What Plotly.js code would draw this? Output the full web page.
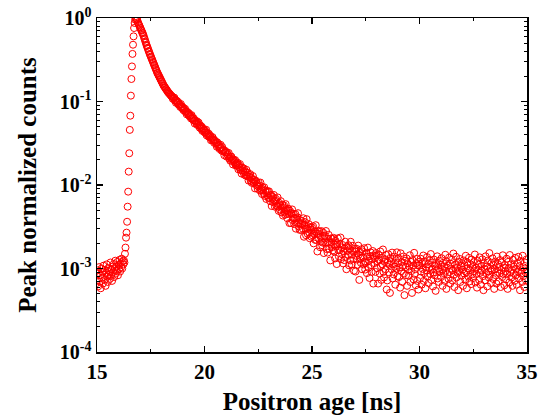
<!DOCTYPE html>
<html>
<head>
<meta charset="utf-8">
<script src="https://cdn.plot.ly/plotly-3.0.1.min.js"></script>
<style>html,body{margin:0;padding:0;background:#fff;}#chart{width:540px;height:417px;}</style>
</head>
<body>
<div id="chart"></div>
<script>
// Time axis: first channel and channel width (ns)
const channelStart = 15;
const channelWidth = 0.025;

// Counts per channel (relative units, peak = 100000)
const counts = [
72,95,61,88,104,70,83,58,99,77,
91,66,108,84,73,96,62,89,112,80,
69,101,86,93,75,118,82,97,71,105,
90,113,79,99,124,87,106,94,120,83,
110,98,127,92,115,104,131,100,122,112,
125,118,150,178,
234,269,363,550,832,1445,2400,4570,6760,11750,18600,26300,37150,47860,60260,75860,87100,95500,100000,
98000,97500,94000,88500,86500,82700,80900,77000,75400,72000,70500,67000,65800,62600,
60700,57100,55400,52000,50600,47500,46200,43800,42800,40200,39500,37100,36400,
34500,33700,32100,31300,29800,29000,27600,27000,25700,25000,23900,23200,
22100,21750,20850,20500,19650,19300,18500,18150,17450,17100,16450,16100,15450,
15250,14800,14600,14150,13980,13550,13380,12950,12850,12520,12400,12080,11980,11650,11560,
11410,10770,11220,10720,11100,10240,10320,9650,10250,9940,9520,9860,9120,9220,9240,8590,9330,8560,8710,8200,
8510,7840,8230,7830,8150,7470,7550,7010,7510,7270,6950,7240,6650,6750,6770,6260,6860,6250,6380,5980,
6280,5930,5440,5880,5730,5460,5800,5220,5400,5600,5120,4860,5190,4960,4730,4990,4450,4750,4530,4640,
4280,4490,4220,4590,3930,4210,4040,3820,4120,3770,3860,3880,3430,3640,3460,3740,3430,3520,3200,3350,
3380,3170,3250,2870,3230,2910,2980,3050,2700,2790,3030,2790,2570,2850,2540,2610,2610,2270,2460,2550,
2460,2190,2440,2310,2200,2420,2070,2150,1950,2170,2190,1950,2030,1760,2020,1950,1850,1990,1720,1810,
1700,1860,1740,1540,1740,1620,1780,1510,1610,1370,1620,1500,1430,1580,1330,1470,1420,1290,1520,1300,
1410,1260,1130,1320,1250,1350,1120,1220,1060,1170,1280,1060,1090,1150,910,1100,1120,990,1030,900,
960,1060,990,860,1070,870,900,780,940,890,800,940,740,860,820,680,840,750,840,700,
840,700,640,750,760,560,690,720,620,760,640,550,650,680,560,600,710,550,490,610,
510,570,640,470,530,580,430,540,570,480,440,590,500,450,400,500,520,450,350,490,
460,350,460,510,380,400,450,340,400,450,300,400,350,410,460,320,360,290,380,340,
290,370,340,300,400,240,330,360,300,250,390,300,260,320,340,270,230,310,290,240,
310,250,320,200,260,280,220,330,220,260,160,280,260,230,280,180,240,210,280,190,
204,268,153,229,248,204,281,171,206,155,227,253,171,205,125,229,207,180,227,165,
233,160,194,132,214,183,113,194,230,166,139,197,166,235,129,179,148,191,115,161,
126,173,209,138,98,183,162,145,190,109,171,125,209,147,112,162,187,130,94,172,
161,92,142,172,128,111,188,146,73,157,134,117,170,98,160,137,112,175,122,97,
117,154,88,138,178,102,124,77,141,156,110,91,130,162,66,143,116,133,91,153,
143,101,122,66,146,127,87,160,107,73,134,112,169,91,78,120,129,98,145,56,
72,118,148,90,111,51,134,122,98,155,76,112,85,139,105,64,126,99,156,81,
116,133,79,103,59,152,93,119,69,108,139,87,48,124,104,83,132,62,115,97,
82,106,144,69,120,93,51,126,108,74,154,86,98,63,116,130,71,109,56,120,
108,77,131,92,64,115,99,143,71,88,122,58,104,95,137,80,112,67,101,126,
86,149,73,97,118,61,90,128,83,107,54,113,96,140,76,101,69,124,92,110,
79,133,98,62,117,88,105,71,146,94,57,121,85,109,75,135,91,66,114,100,
127,72,95,151,84,60,111,98,138,78,103,89,55,120,93,130,69,106,82,116,
97,62,125,87,109,74,142,90,58,118,101,80,134,70,96,112,65,128,85,104,
77,119,93,147,68,102,86,59,123,97,111,73,136,89,64,107,94,129,81,55,
115,99,72,140,88,106,61,124,92,78,153,84,100,67,117,95,132,75,109,57,
98,121,83,66,139,91,113,70,104,87,126,60,96,118,79,144,86,102,63,110,
93,74,131,85,57,120,101,68,145,90,112,78,97,62,127,88,105,71,134,83,
99,64,116,92,138,76,107,55,123,87,95,69,142,81,103,60,118,90,73,128,94
];

// Axis tick labels
const xTickVals = [15, 20, 25, 30, 35];
const xTickText = ['15', '20', '25', '30', '35'];
const yTickVals = [1e-4, 1e-3, 1e-2, 1e-1, 1];
const yTickText = ['10<sup>-4</sup>', '10<sup>-3</sup>', '10<sup>-2</sup>', '10<sup>-1</sup>', '10<sup>0</sup>'];
const yMinorVals = [];
[1e-4, 1e-3, 1e-2, 1e-1].forEach(d => { for (let k = 2; k <= 9; k++) yMinorVals.push(d * k); });

const peak = Math.max(...counts);
const yNorm = counts.map(c => c / peak);

const trace = {
  type: 'scatter',
  mode: 'markers',
  x0: channelStart,
  dx: channelWidth,
  y: yNorm,
  marker: { symbol: 'circle-open', size: 7, color: '#ff0000', line: { width: 1, color: '#ff0000' } },
  hoverinfo: 'x+y'
};

const bold = s => '<b>' + s + '</b>';
const fontFam = '"Liberation Serif", "Times New Roman", serif';
const layout = {
  width: 540, height: 417,
  margin: { l: 97, r: 13, t: 18, b: 65 },
  paper_bgcolor: '#ffffff', plot_bgcolor: '#ffffff',
  font: { family: fontFam, color: '#000000' },
  showlegend: false,
  xaxis: {
    range: [15, 35],
    tickmode: 'array', tickvals: xTickVals, ticktext: xTickText.map(bold),
    ticks: 'inside', ticklen: 6, tickwidth: 1.2, tickcolor: '#000',
    showline: true, linecolor: '#000', linewidth: 1.5, mirror: 'ticks',
    showgrid: false, zeroline: false,
    tickfont: { family: fontFam, size: 21, color: '#000' },
    minor: { tickmode: 'linear', tick0: 15, dtick: 2.5, ticks: 'inside', ticklen: 3, tickwidth: 1, tickcolor: '#000', showgrid: false },
    title: { text: bold('Positron age [ns]'), font: { family: fontFam, size: 25, color: '#000' }, standoff: 10 }
  },
  yaxis: {
    type: 'log', range: [-4, 0],
    tickmode: 'array', tickvals: yTickVals, ticktext: yTickText.map(bold),
    ticks: 'inside', ticklen: 6, tickwidth: 1.2, tickcolor: '#000',
    showline: true, linecolor: '#000', linewidth: 1.5, mirror: 'ticks',
    showgrid: false, zeroline: false,
    tickfont: { family: fontFam, size: 20, color: '#000' },
    minor: { tickmode: 'array', tickvals: yMinorVals, ticks: 'inside', ticklen: 3, tickwidth: 1, tickcolor: '#000', showgrid: false },
    title: { text: bold('Peak normalized counts'), font: { family: fontFam, size: 25, color: '#000' }, standoff: 16 }
  }
};

Plotly.newPlot('chart', [trace], layout, { staticPlot: true, displayModeBar: false });
</script>
</body>
</html>
